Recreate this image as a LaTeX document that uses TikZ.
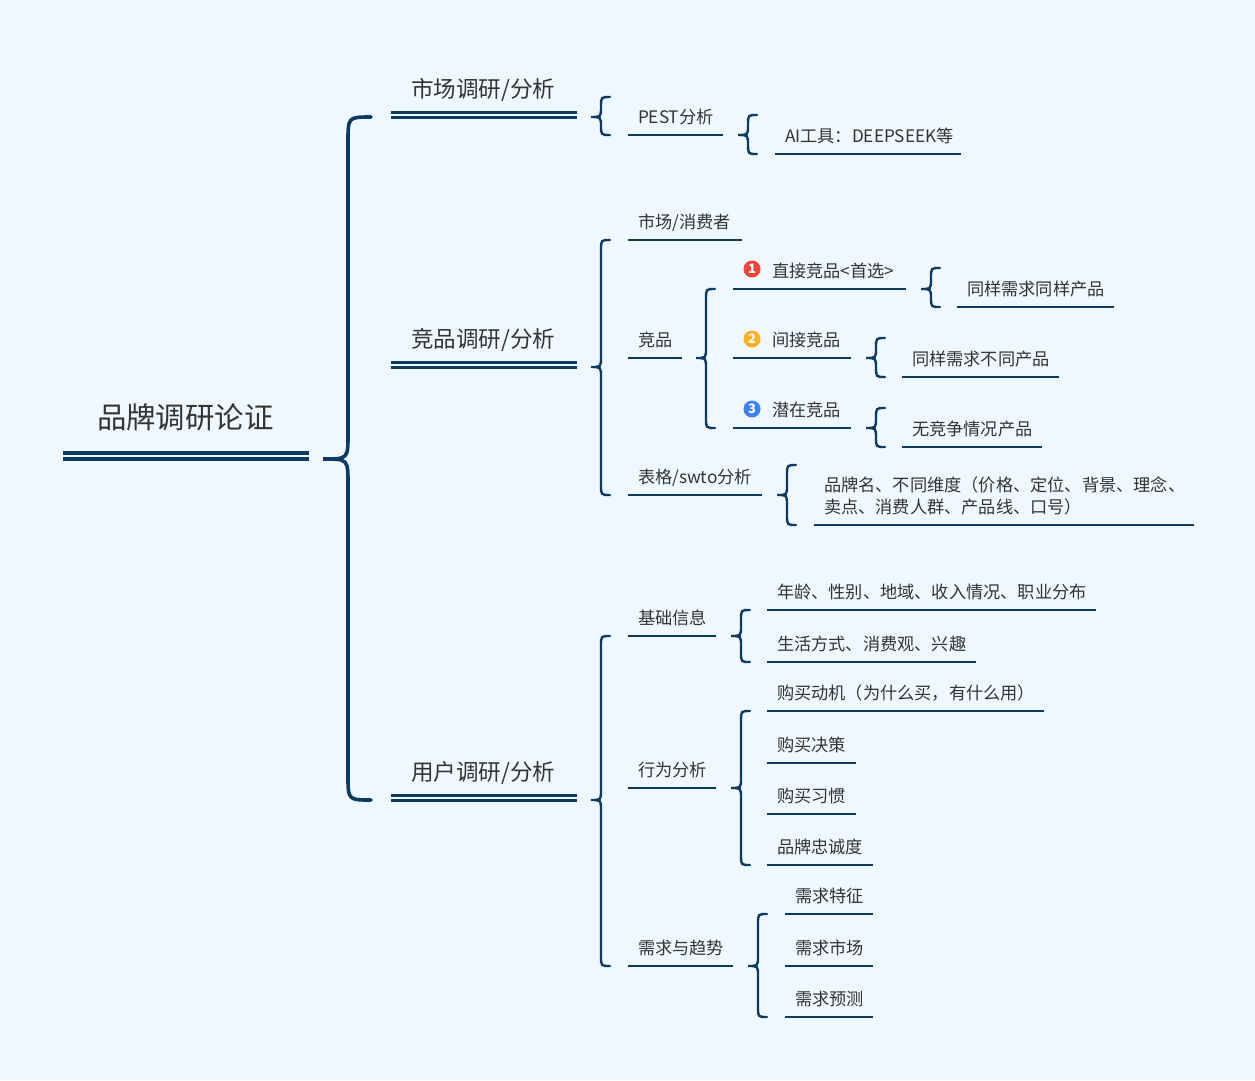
\documentclass[tikz,border=0pt]{standalone}
\usepackage{fontspec}
\setmainfont{Noto Sans CJK SC}
\usetikzlibrary{calc}
\definecolor{bgc}{HTML}{EFF8FF}
\definecolor{linec}{HTML}{0F3A60}
\definecolor{textc}{HTML}{333333}
\definecolor{redc}{HTML}{F0433A}
\definecolor{orangec}{HTML}{FDB022}
\definecolor{bluec}{HTML}{3B82F0}
\tikzset{
  x=1pt,y=-1pt,
  label base/.style={anchor=south west,outer sep=0pt,text=textc,align=left},
  leaf/.style={label base,font=\fontsize{17.2}{22}\selectfont,inner xsep=10pt,inner ysep=8pt,text height=13pt,text depth=4pt},
  topic/.style={label base,font=\fontsize{22.6}{28}\selectfont,inner xsep=20pt,inner ysep=14pt,text height=18pt,text depth=6pt},
  rootn/.style={label base,font=\fontsize{29.4}{34}\selectfont,inner xsep=34pt,inner ysep=24pt,text height=22pt,text depth=7pt},
  uline/.style={draw=linec,line width=2.6pt},
  dline/.style={draw=linec,line width=3pt},
  rline/.style={draw=linec,line width=4pt},
  bsmall/.style={draw=linec,line width=2.4pt,line cap=round},
  bbig/.style={draw=linec,line width=3.6pt,line cap=round},
  badge/.style={circle,inner sep=0pt,minimum size=17pt,text=white,font=\fontsize{13}{13}\selectfont\bfseries},
}
% \lbln{name}{x1}{x2}{y}{text}: single-underlined label
\newcommand{\lbln}[6][]{%
  \pgfmathsetmacro{\mywd}{#4-#3}\pgfmathsetmacro{\mytw}{#4-#3-20}%
  \node[leaf,minimum width=\mywd pt,text width=\mytw pt,#1] (#2) at (#3,#5) {#6};
  \draw[uline] (#2.south west) -- (#2.south east);}
% \topicn{name}{y}{text}: double-underlined topic
\newcommand{\topicn}[3]{%
  \node[topic,minimum width=186pt,text width=146pt] (#1) at (391,#2) {#3};
  \draw[dline] (#1.south west) -- (#1.south east);
  \draw[dline] ([yshift=5pt]#1.south west) -- ([yshift=5pt]#1.south east);}
% \brc{style}{parent}{top end}{bottom end}{gap}{r}{inset}
\newcommand{\brc}[7]{%
  \draw[#1] let \p1=(#2.south east),\p2=(#3),\p3=(#4) in
    ({\x2-#7pt},{\y2}) .. controls ({\x1+#5pt+#6pt},{\y2}) .. ({\x1+#5pt+#6pt},{\y2-#6pt})
    -- ({\x1+#5pt+#6pt},{\y1+#6pt}) .. controls ({\x1+#5pt+#6pt},{\y1}) .. ({\x1+#5pt},{\y1})
    .. controls ({\x1+#5pt+#6pt},{\y1}) .. ({\x1+#5pt+#6pt},{\y1-#6pt})
    -- ({\x1+#5pt+#6pt},{\y3+#6pt}) .. controls ({\x1+#5pt+#6pt},{\y3}) .. ({\x3-#7pt},{\y3});}
\begin{document}
\begin{tikzpicture}
\useasboundingbox (0,0) rectangle (1255,1080);
\fill[bgc] (0,0) rectangle (1255,1080);

% root
\node[rootn,minimum width=246pt,text width=178pt] (root) at (63,459) {品牌调研论证};
\draw[rline] (root.south west) -- (root.south east);
\draw[rline] ([yshift=6pt]root.south west) -- ([yshift=6pt]root.south east);

% topics
\topicn{t1}{117}{市场调研/分析}
\topicn{t2}{367}{竞品调研/分析}
\topicn{t3}{800}{用户调研/分析}
\brc{bbig}{root}{t1.south west}{t3.south west}{14}{25}{20}

% market
\lbln{pest}{628}{723}{135}{PEST分析}
\lbln{ai}{775}{961}{154}{AI工具：DEEPSEEK等}
\coordinate (pesttop) at (628,97);
\coordinate (aitop) at (775,115);
\brc{bsmall}{t1}{pesttop}{pest.south west}{14}{10}{18}
\brc{bsmall}{pest}{aitop}{ai.south west}{15}{10}{18}

% competitors
\lbln{mkt}{628}{742}{240}{市场/消费者}
\lbln{cmp}{628}{682}{358}{竞品}
\lbln{tbl}{628}{762}{495}{表格/swto分析}
\brc{bsmall}{t2}{mkt.south west}{tbl.south west}{14}{10}{18}

\lbln[inner xsep=0pt,text width=173pt]{c1}{733}{906}{289}{\hspace*{39pt}直接竞品<首选>}
\lbln[inner xsep=0pt,text width=118pt]{c2}{733}{851}{358}{\hspace*{39pt}间接竞品}
\lbln[inner xsep=0pt,text width=118pt]{c3}{733}{851}{428}{\hspace*{39pt}潜在竞品}
\node[badge,fill=redc] (b1) at (752,269) {1};
\node[badge,fill=orangec] (b2) at (752,339) {2};
\node[badge,fill=bluec] (b3) at (752,409) {3};
\brc{bsmall}{cmp}{c1.south west}{c3.south west}{14}{10}{18}

\lbln{d1}{957}{1114}{307}{同样需求同样产品}
\lbln{d2}{902}{1059}{377}{同样需求不同产品}
\lbln{d3}{902}{1042}{447}{无竞争情况产品}
\coordinate (d1top) at (957,268);
\coordinate (d2top) at (902,338);
\coordinate (d3top) at (902,408);
\brc{bsmall}{c1}{d1top}{d1.south west}{15}{10}{17}
\brc{bsmall}{c2}{d2top}{d2.south west}{15}{10}{17}
\brc{bsmall}{c3}{d3top}{d3.south west}{15}{10}{17}

\lbln[text depth=26pt]{tdet}{814}{1194}{525}{品牌名、不同维度（价格、定位、背景、理念、\\卖点、消费人群、产品线、口号）}
\coordinate (tdettop) at (814,465);
\brc{bsmall}{tbl}{tdettop}{tdet.south west}{15}{10}{18}

% users
\lbln{u1}{628}{716}{636}{基础信息}
\lbln{u2}{628}{716}{788}{行为分析}
\lbln{u3}{628}{733}{966}{需求与趋势}
\brc{bsmall}{t3}{u1.south west}{u3.south west}{14}{10}{18}

\lbln{e1}{767}{1096}{610}{年龄、性别、地域、收入情况、职业分布}
\lbln{e2}{767}{976}{662}{生活方式、消费观、兴趣}
\brc{bsmall}{u1}{e1.south west}{e2.south west}{15}{10}{17}

\lbln{f1}{767}{1044}{711}{购买动机（为什么买，有什么用）}
\lbln{f2}{767}{856}{763}{购买决策}
\lbln{f3}{767}{856}{814}{购买习惯}
\lbln{f4}{767}{873}{865}{品牌忠诚度}
\brc{bsmall}{u2}{f1.south west}{f4.south west}{15}{10}{17}

\lbln{g1}{785}{873}{914}{需求特征}
\lbln{g2}{785}{873}{966}{需求市场}
\lbln{g3}{785}{873}{1017}{需求预测}
\brc{bsmall}{u3}{g1.south west}{g3.south west}{15}{10}{18}
\end{tikzpicture}
\end{document}
